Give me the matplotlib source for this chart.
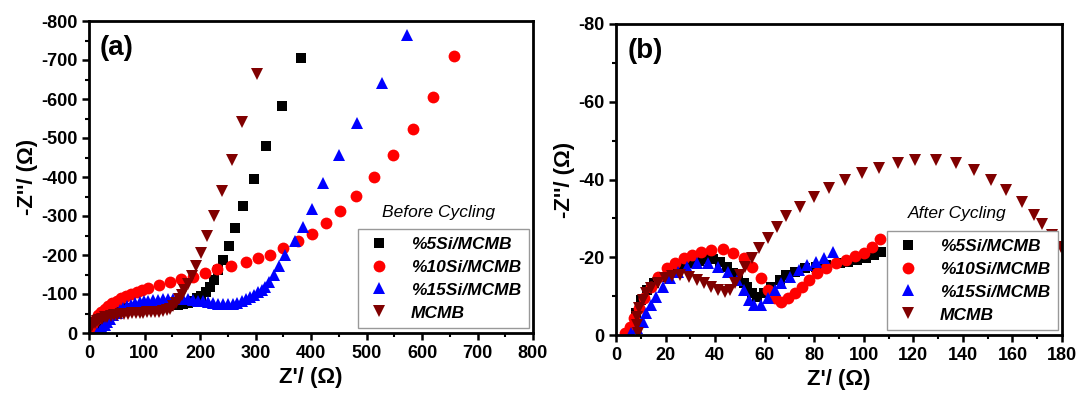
"""Nyquist plots of Si/MCMB electrodes before and after cycling."""

import matplotlib
matplotlib.use("Agg")
import matplotlib.pyplot as plt
from matplotlib.ticker import MultipleLocator

plt.rcParams["font.family"] = ["Liberation Sans", "DejaVu Sans"]
plt.rcParams["font.weight"] = "bold"
plt.rcParams["axes.labelweight"] = "bold"
plt.rcParams["axes.unicode_minus"] = False

LABELS = ["%5Si/MCMB", "%10Si/MCMB", "%15Si/MCMB", "MCMB"]

# ---- (a) before cycling: Z' and Z'' (ohm) ----
a_si5_re = [3, 7, 11, 16, 21, 27, 33, 40, 47, 55, 63, 71, 80, 89, 98, 107, 116, 125, 134,
            143, 152, 161, 170, 178, 186, 194, 202, 210, 218, 225, 233, 242, 252, 263, 278,
            297, 319, 347, 382]
a_si5_im = [-6, -14, -22, -30, -37, -43, -48, -53, -57, -60, -62, -64, -65, -66, -67, -67, -68,
            -68, -69, -70, -71, -72, -74, -77, -82, -90, -95, -104, -119, -136, -162, -188,
            -223, -269, -326, -394, -480, -583, -705]

a_si10_re = [0, 2, 5, 8, 12, 17, 22, 28, 35, 42, 50, 58, 67, 76, 86, 96, 107, 126, 146, 166,
             188, 209, 231, 255, 282, 305, 326, 350, 376, 401, 427, 452, 481, 514, 547, 583,
             620, 657]
a_si10_im = [-5, -12, -20, -28, -36, -45, -53, -61, -69, -76, -83, -89, -95, -100, -106, -111,
             -116, -124, -130, -138, -144, -155, -164, -172, -182, -192, -201, -218, -236,
             -255, -282, -312, -351, -399, -456, -523, -606, -710]

a_si15_re = [15, 19, 23, 28, 33, 38, 44, 50, 56, 62, 69, 76, 83, 91, 99, 107, 115, 124, 133,
             142, 151, 160, 169, 178, 187, 196, 205, 214, 223, 232, 241, 250, 259, 267, 275,
             283, 290, 297, 304, 311, 318, 325, 334, 343, 353, 371, 385, 401, 421, 451, 483,
             528, 573]
a_si15_im = [0, -6, -13, -21, -29, -37, -45, -52, -58, -63, -68, -72, -76, -79, -81, -83, -84,
             -85, -86, -87, -87, -87, -87, -86, -85, -83, -81, -79, -77, -75, -74, -74, -75,
             -77, -81, -87, -92, -98, -105, -111, -119, -130, -149, -173, -199, -236, -272,
             -319, -384, -457, -538, -641, -763]

a_mcmb_re = [0, 3, 6, 10, 14, 18, 23, 28, 33, 39, 45, 51, 57, 63, 70, 77, 84, 91, 98, 105,
             112, 119, 126, 133, 140, 146, 152, 157, 162, 167, 172, 178, 185, 193, 202, 213,
             225, 240, 257, 276, 302]
a_mcmb_im = [-10, -16, -21, -26, -30, -34, -37, -40, -42, -44, -46, -47, -48, -49, -50, -51,
             -51, -52, -52, -53, -53, -54, -55, -56, -58, -62, -68, -76, -86, -97, -110, -126,
             -147, -173, -205, -248, -300, -364, -444, -542, -663]

# ---- (b) after cycling ----
b_si5_re = [6.5, 7.9, 10, 12.7, 15.5, 19, 22.4, 26.6, 30.7, 33.5, 36.3, 39, 41.8, 44.6, 47.4,
            49.4, 51.5, 52.9, 55, 57, 59.8, 62.6, 66, 68.8, 72.3, 76.4, 80.6, 84.7, 90.3,
            93.7, 97.2, 100.7, 104, 106.9]
b_si5_im = [-1.7, -5.6, -9, -11.6, -13.3, -15, -16.3, -17.6, -18.4, -19.1, -19.5, -19.5, -18.9,
            -17.6, -15.9, -14.6, -13.3, -12.4, -10.7, -9.9, -10.7, -12.4, -14.2, -15.4, -16.3,
            -17.2, -17.6, -18, -18.4, -18.9, -19.3, -19.7, -20.6, -21.4]

b_si10_re = [3.7, 5.8, 7.2, 9.3, 11.4, 14.1, 16.9, 20.4, 23.8, 27.3, 30.7, 34.2, 38.4, 43.2,
             47.4, 51.5, 55, 58.4, 61.2, 64, 66.7, 69.5, 72.3, 75, 77.8, 81.3, 84.7, 88.9,
             93, 96.5, 100, 103.4, 106.6]
b_si10_im = [-0.4, -2.1, -4.3, -6.9, -9.4, -12.4, -15, -17.2, -18.4, -19.7, -20.6, -21.4, -21.9,
             -22, -21, -19.7, -17.6, -14.6, -11.6, -9.4, -8.6, -9.4, -10.7, -12.4, -14.2,
             -15.9, -17.2, -18.4, -19.3, -20.2, -21, -22.7, -24.6]

b_si15_re = [6.1, 8.6, 10.7, 12, 14.1, 16.2, 19, 21.7, 25.2, 28.7, 32.8, 37, 41.1, 45.3, 48.7,
             51.5, 53.6, 55.7, 58.4, 61.2, 64, 66.7, 70.2, 73.7, 77.1, 80.6, 84, 87.5]
b_si15_im = [-0.4, -1.7, -3.4, -5.6, -7.7, -9.9, -12.4, -14.6, -16.3, -17.6, -18.4, -18.4, -17.6,
             -16.3, -14.2, -11.6, -9, -7.7, -7.7, -9.4, -11.6, -13.3, -15, -16.7, -18, -18.9,
             -19.7, -21.4]

b_mcmb_re = [8.9, 8.3, 8.6, 9.3, 10.7, 12, 14.1, 16.9, 19.7, 22.4, 25.9, 29.4, 32.8, 35.6, 38.4,
             41, 43.9, 46, 48, 50.1, 52.2, 55, 57.7, 61.2, 65.1, 68.8, 74.4, 79.9, 86.1, 92.4,
             99.3, 106.2, 113.8, 120.7, 129, 137.4, 144.6, 151.2, 157.4, 163.7, 168.5, 172,
             176, 179.6]
b_mcmb_im = [-0.4, -2.6, -4.7, -6.9, -9, -10.7, -12, -13.3, -14.6, -15.2, -15.4, -15, -14.2,
             -13.3, -12.4, -11.6, -11.1, -11.6, -13.3, -15.4, -17.6, -19.7, -22.3, -24.9, -27.9,
             -30.6, -33, -35.6, -37.7, -39.9, -41.6, -42.9, -44.3, -45, -45, -44.2, -42.5,
             -39.9, -37.3, -34.3, -30.9, -28.6, -25.7, -22.7]

STYLES = [
    dict(marker="s", color="#000000", ms=7.5),
    dict(marker="o", color="#ff0000", ms=8.5),
    dict(marker="^", color="#0000ff", ms=9),
    dict(marker="v", color="#800000", ms=9),
]


def style_axis(ax, xmax, xstep, ymax, ystep):
    ax.set_xlim(0, xmax)
    ax.set_ylim(0, ymax)  # ymax negative -> -Z'' grows upward
    ax.xaxis.set_major_locator(MultipleLocator(xstep))
    ax.xaxis.set_minor_locator(MultipleLocator(xstep / 2))
    ax.yaxis.set_major_locator(MultipleLocator(ystep))
    ax.yaxis.set_minor_locator(MultipleLocator(ystep / 2))
    ax.tick_params(which="major", direction="out", length=5, width=1.8, labelsize=13)
    ax.tick_params(which="minor", direction="out", length=3, width=1.5)
    for sp in ax.spines.values():
        sp.set_linewidth(2)
    ax.set_xlabel("Z'/ (\u03a9)", fontsize=16, labelpad=4)
    ax.set_ylabel("-Z''/ (\u03a9)", fontsize=16, labelpad=2)


def draw_panel(ax, series):
    for (re, im), label, st in zip(series, LABELS, STYLES):
        ax.plot(re, im, linestyle="none", marker=st["marker"], color=st["color"],
                markersize=st["ms"], markeredgewidth=0, label=label)
    leg = ax.legend(loc="lower right", bbox_to_anchor=(0.99, 0.015), fancybox=False,
                    framealpha=1, edgecolor="#999999", borderpad=0.45, labelspacing=0.45,
                    handletextpad=1.0, handlelength=1.6, borderaxespad=0,
                    prop={"weight": "bold", "style": "italic", "size": 12.5})
    leg.get_frame().set_linewidth(1)


fig = plt.figure(figsize=(10.79, 4.01), dpi=100)

ax_a = fig.add_axes([89 / 1079, 68 / 401, 444 / 1079, 312 / 401])
draw_panel(ax_a, [(a_si5_re, a_si5_im), (a_si10_re, a_si10_im),
                  (a_si15_re, a_si15_im), (a_mcmb_re, a_mcmb_im)])
style_axis(ax_a, 800, 100, -800, 100)
ax_a.text(0.025, 0.955, "(a)", transform=ax_a.transAxes, fontsize=20,
          fontweight="bold", va="top")
ax_a.text(0.66, 0.385, "Before Cycling", transform=ax_a.transAxes, fontsize=12.5,
          fontweight="normal", style="italic", va="center")

ax_b = fig.add_axes([616 / 1079, 66 / 401, 446 / 1079, 311 / 401])
draw_panel(ax_b, [(b_si5_re, b_si5_im), (b_si10_re, b_si10_im),
                  (b_si15_re, b_si15_im), (b_mcmb_re, b_mcmb_im)])
style_axis(ax_b, 180, 20, -80, 20)
ax_b.text(0.025, 0.955, "(b)", transform=ax_b.transAxes, fontsize=20,
          fontweight="bold", va="top")
ax_b.text(0.655, 0.39, "After Cycling", transform=ax_b.transAxes, fontsize=12.5,
          fontweight="normal", style="italic", va="center")

fig.savefig("out.png", dpi=100)
plt.close(fig)
